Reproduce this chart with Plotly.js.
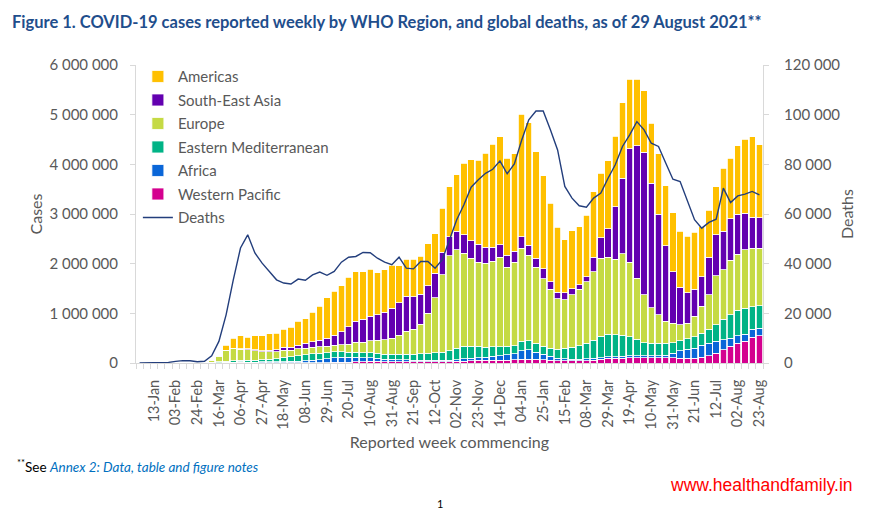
<!DOCTYPE html>
<html>
<head>
<meta charset="utf-8">
<script src="https://cdn.plot.ly/plotly-3.0.1.min.js"></script>
<style>html,body{margin:0;padding:0;background:#fff;}#chart{width:886px;height:512px;}</style>
</head>
<body>
<div id="chart"></div>
<script>
// Week commencing dates (categories): weekly from 30 Dec 2019 to 23 Aug 2021
const firstWeek = '2019-12-30';
const weekCount = 87;

// Tick labels shown every third week
const tickLabels = ['13-Jan','03-Feb','24-Feb','16-Mar','06-Apr','27-Apr','18-May','08-Jun','29-Jun','20-Jul',
  '10-Aug','31-Aug','21-Sep','12-Oct','02-Nov','23-Nov','14-Dec','04-Jan','25-Jan','15-Feb',
  '08-Mar','29-Mar','19-Apr','10-May','31-May','21-Jun','12-Jul','02-Aug','23-Aug'];

// Weekly cases by WHO Region
const westernPacific = [0,0,100,2000,8000,12000,14000,8000,4000,6000,
  6000,8000,10000,13000,15000,12000,10000,9000,8000,7000,
  7000,7000,7000,8000,8000,9000,10000,12000,15000,20000,
  25000,30000,35000,35000,30000,28000,25000,25000,25000,25000,
  30000,30000,30000,30000,35000,40000,50000,55000,55000,60000,
  60000,60000,65000,80000,80000,75000,70000,60000,50000,45000,
  45000,45000,47000,60000,80000,94000,100000,100000,110000,110000,
  110000,110000,110000,110000,105000,100000,100000,100000,120000,150000,
  200000,270000,340000,400000,440000,520000,550000];

const africa = [0,0,0,0,0,0,0,0,0,100,
  200,1000,3000,5000,6000,8000,10000,12000,15000,18000,
  23000,25000,30000,40000,50000,60000,75000,90000,100000,100000,
  90000,80000,70000,60000,50000,45000,40000,40000,35000,33000,
  30000,30000,30000,30000,35000,45000,50000,55000,65000,75000,
  90000,110000,125000,170000,190000,145000,110000,75000,50000,42000,
  35000,35000,35000,35000,30000,30000,30000,35000,35000,35000,
  35000,35000,40000,50000,95000,150000,180000,200000,240000,250000,
  235000,200000,160000,150000,140000,160000,150000];

const easternMediterranean = [0,0,0,0,0,0,0,0,1000,6000,
  8000,12000,20000,25000,30000,35000,40000,45000,55000,65000,
  90000,95000,110000,120000,130000,130000,125000,120000,110000,100000,
  100000,100000,100000,100000,100000,100000,110000,115000,120000,125000,
  140000,150000,160000,190000,230000,250000,235000,225000,200000,190000,
  180000,165000,160000,190000,180000,180000,155000,165000,180000,213000,
  240000,270000,318000,360000,430000,456000,440000,420000,380000,335000,
  265000,255000,250000,240000,210000,200000,210000,230000,240000,280000,
  335000,410000,470000,510000,520000,450000,450000];

const europe = [0,0,0,0,0,0,0,0,2000,15000,
  35000,100000,220000,245000,230000,215000,190000,165000,150000,135000,
  140000,130000,135000,130000,130000,130000,130000,140000,145000,160000,
  200000,210000,240000,260000,290000,330000,380000,460000,500000,600000,
  800000,1100000,1560000,1910000,1980000,1875000,1775000,1695000,1690000,1725000,
  1800000,1595000,1680000,1870000,1720000,1530000,1365000,1180000,1010000,970000,
  1050000,1130000,1240000,1385000,1570000,1550000,1520000,1645000,1505000,1230000,
  960000,710000,570000,440000,390000,320000,310000,410000,540000,690000,
  990000,1000000,1100000,1130000,1180000,1180000,1160000];

const southEastAsia = [0,0,0,0,0,0,0,0,0,100,
  200,1000,3000,6000,10000,12000,15000,20000,30000,40000,
  60000,65000,80000,95000,110000,130000,160000,200000,260000,350000,
  430000,460000,500000,520000,550000,600000,660000,700000,650000,600000,
  560000,500000,450000,380000,370000,370000,350000,360000,320000,280000,
  250000,240000,220000,230000,200000,180000,200000,160000,130000,140000,
  130000,100000,100000,290000,410000,570000,1060000,1520000,2280000,2660000,
  2870000,2510000,2030000,1520000,1040000,760000,610000,550000,600000,760000,
  820000,770000,830000,810000,740000,620000,610000];

const americas = [0,0,0,0,0,0,0,0,0,1000,
  3000,12000,100000,200000,260000,240000,285000,300000,330000,335000,
  360000,400000,480000,500000,590000,680000,810000,880000,930000,1000000,
  995000,960000,945000,845000,860000,867000,745000,750000,760000,767000,
  840000,790000,890000,1010000,1140000,1440000,1630000,1690000,1890000,2070000,
  2180000,1950000,1960000,2470000,2470000,2140000,1870000,1580000,1310000,1070000,
  1160000,1160000,1230000,1320000,1300000,1370000,1420000,1520000,1400000,1340000,
  1240000,1210000,1210000,1210000,1190000,1120000,1140000,1140000,1000000,950000,
  970000,1270000,1220000,1370000,1490000,1630000,1470000];

// Global weekly deaths
const deaths = [0,0,3,40,250,650,950,900,500,700,
  2900,8700,19400,33500,46300,51600,44300,40200,36900,33500,
  32200,31800,33800,33300,35500,36600,35300,36900,40600,42600,
  42900,44500,44400,42200,40600,39600,42600,38200,37900,40900,
  40900,38200,41600,49600,57700,63700,70800,73800,76400,78000,
  81400,76200,80200,89600,97900,101500,101500,93900,85800,71100,
  66400,63300,62700,66400,68400,74400,79800,87200,91900,97200,
  93900,88500,87200,80500,74000,73100,65000,57700,54300,56600,
  57900,70400,64600,67300,68000,69100,67700];

// ---- build week dates ----
const DAY = 86400000;
const t0 = Date.parse(firstWeek + 'T00:00:00Z');
const weeks = [];
for (let i = 0; i < weekCount; i++) {
  weeks.push(new Date(t0 + i * 7 * DAY).toISOString().slice(0, 10));
}
const tickVals = weeks.filter((w, i) => i % 3 === 2);

const grey = '#595959';
const axisGrey = '#d9d9d9';
const fontFam = 'Lato, "Open Sans", sans-serif';

const series = [
  {name: 'Western Pacific', y: westernPacific, color: '#d4008f', rank: 6},
  {name: 'Africa', y: africa, color: '#0a66d8', rank: 5},
  {name: 'Eastern Mediterranean', y: easternMediterranean, color: '#00b386', rank: 4},
  {name: 'Europe', y: europe, color: '#c5da44', rank: 3},
  {name: 'South-East Asia', y: southEastAsia, color: '#6300b0', rank: 2},
  {name: 'Americas', y: americas, color: '#ffc000', rank: 1}
];

const traces = series.map(s => ({
  type: 'bar', name: s.name, x: weeks, y: s.y,
  marker: {color: s.color, line: {color: '#ffffff', width: 0.8}},
  legendrank: s.rank, legendgroup: s.name
}));
traces.push({
  type: 'scatter', mode: 'lines', name: 'Deaths', x: weeks, y: deaths, yaxis: 'y2',
  line: {color: '#233e7c', width: 1.4}, legendrank: 7, legendgroup: 'Deaths'
});

const startRange = new Date(t0 - 3.5 * DAY).toISOString();
const endRange = new Date(t0 + (weekCount - 1) * 7 * DAY + 3.5 * DAY).toISOString();

const layout = {
  width: 886, height: 512,
  margin: {l: 136, r: 123, t: 65, b: 149},
  paper_bgcolor: '#ffffff', plot_bgcolor: '#ffffff',
  font: {family: fontFam, color: grey},
  separators: '. ',
  barmode: 'stack', bargap: 0.12,
  showlegend: true,
  title: {
    text: '<b>Figure 1. COVID-19 cases reported weekly by WHO Region, and global deaths, as of 29 August 2021**</b>',
    font: {family: fontFam, size: 16.5, color: '#1f4e8c'},
    x: 12 / 886, xanchor: 'left', y: 1 - 22 / 512, yanchor: 'middle'
  },
  legend: {
    x: 0.003, y: 1.016, xanchor: 'left', yanchor: 'top',
    bgcolor: 'rgba(0,0,0,0)', font: {size: 15, color: grey},
    itemwidth: 30, traceorder: 'grouped', tracegroupgap: 1
  },
  xaxis: {
    type: 'date', range: [startRange, endRange],
    tickmode: 'array', tickvals: tickVals, ticktext: tickLabels, tickangle: -90,
    ticks: '', showgrid: false, zeroline: false,
    showline: true, linecolor: axisGrey, linewidth: 1,
    tickfont: {size: 14.5, color: grey},
    ticklabelstandoff: 10,
    minor: {tickmode: 'linear', tick0: startRange, dtick: 7 * DAY, ticks: 'outside', ticklen: 5, tickcolor: axisGrey, showgrid: false},
    title: {text: 'Reported week commencing', font: {size: 16, color: grey}, standoff: 8}
  },
  yaxis: {
    range: [0, 6000000], dtick: 1000000, tickformat: ',d',
    showgrid: false, zeroline: false,
    showline: true, linecolor: axisGrey, linewidth: 1,
    ticks: 'outside', ticklen: 5, tickcolor: axisGrey,
    tickfont: {size: 15, color: grey}, ticklabelstandoff: 9,
    title: {text: 'Cases', font: {size: 16, color: grey}, standoff: 2}
  },
  yaxis2: {
    overlaying: 'y', side: 'right',
    range: [0, 120000], dtick: 20000, tickformat: ',d',
    showgrid: false, zeroline: false,
    showline: true, linecolor: axisGrey, linewidth: 1,
    ticks: 'outside', ticklen: 5, tickcolor: axisGrey,
    tickfont: {size: 15, color: grey}, ticklabelstandoff: 12,
    title: {text: 'Deaths', font: {size: 16, color: grey}, standoff: 2}
  },
  annotations: [
    {xref: 'paper', yref: 'paper', x: (15 - 136) / 627, y: (363 - 466) / 298, xanchor: 'left', yanchor: 'middle',
     showarrow: false, font: {family: fontFam, size: 13.5, color: '#000000'},
     text: '<sup>**</sup>See <i><span style="color:#0070c0">Annex 2: Data, table and figure notes</span></i>'},
    {xref: 'paper', yref: 'paper', x: (668 - 136) / 627, y: (363 - 485) / 298, xanchor: 'left', yanchor: 'middle',
     showarrow: false, font: {family: '"Liberation Sans", Arial, sans-serif', size: 17.5, color: '#ff0000'},
     text: 'www.healthandfamily.in'},
    {xref: 'paper', yref: 'paper', x: (440 - 136) / 627, y: (363 - 503) / 298, xanchor: 'center', yanchor: 'middle',
     showarrow: false, font: {family: fontFam, size: 11, color: '#000000'}, text: '1'}
  ]
};

Plotly.newPlot('chart', traces, layout, {displayModeBar: false, staticPlot: true});
</script>
</body>
</html>
